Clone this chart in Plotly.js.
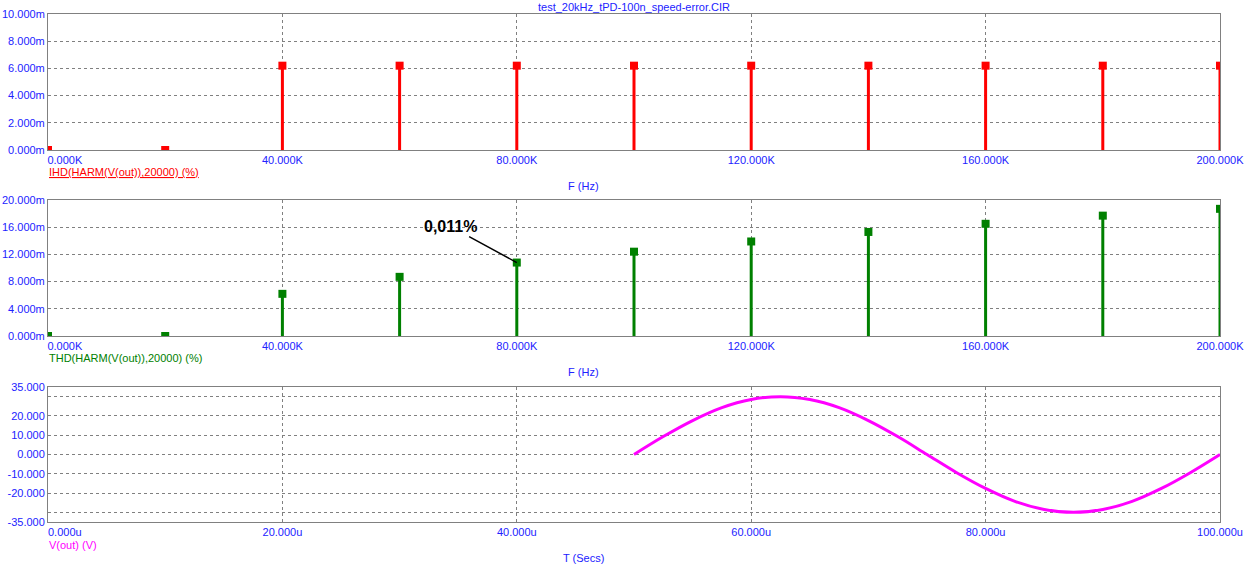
<!DOCTYPE html>
<html><head><meta charset="utf-8">
<script src="https://cdn.plot.ly/plotly-3.0.1.min.js"></script>
<style>html,body{margin:0;padding:0;background:#fff;}</style>
</head><body>
<div id="chart" style="width:1247px;height:569px"></div>
<script>
const chartTitle = 'test_20kHz_tPD-100n_speed-error.CIR';
const harmFreqK = [0, 20, 40, 60, 80, 100, 120, 140, 160, 180, 200];
const ihdMilli  = [0, 0, 6.2, 6.2, 6.2, 6.2, 6.2, 6.2, 6.2, 6.2, 6.2];
const thdMilli  = [0, 0, 6.2, 8.7, 10.8, 12.4, 13.9, 15.3, 16.5, 17.7, 18.7];
const timeMicro = [50, 52.5, 55, 57.5, 60, 62.5, 65, 67.5, 70, 72.5, 75, 77.5, 80, 82.5, 85, 87.5, 90, 92.5, 95, 97.5, 100];
const voutVolts = [0, 9.3, 17.6, 24.3, 28.5, 30.0, 28.5, 24.3, 17.6, 9.3, 0, -9.3, -17.6, -24.3, -28.5, -30.0, -28.5, -24.3, -17.6, -9.3, 0];

const freqTickVals = [0, 40, 80, 120, 160, 200];
const freqTickText = ['0.000K', '40.000K', '80.000K', '120.000K', '160.000K', '200.000K'];
const ihdTickVals = [0, 2, 4, 6, 8, 10];
const ihdTickText = ['0.000m', '2.000m', '4.000m', '6.000m', '8.000m', '10.000m'];
const thdTickVals = [0, 4, 8, 12, 16, 20];
const thdTickText = ['0.000m', '4.000m', '8.000m', '12.000m', '16.000m', '20.000m'];
const timeTickVals = [0, 20, 40, 60, 80, 100];
const timeTickText = ['0.000u', '20.000u', '40.000u', '60.000u', '80.000u', '100.000u'];
const voutTickVals = [-35, -20, -10, 0, 10, 20, 35];
const voutTickText = ['-35.000', '-20.000', '-10.000', '0.000', '10.000', '20.000', '35.000'];
const voutGridVals = [-30, -20, -10, 0, 10, 20, 30];

const ihdLabel = 'IHD(HARM(V(out)),20000) (%)';
const thdLabel = 'THD(HARM(V(out)),20000) (%)';
const voutLabel = 'V(out) (V)';
const freqAxisLabel = 'F (Hz)';
const timeAxisLabel = 'T (Secs)';
const markLabel = '0,011%';

const W = 1247, H = 569, L = 48, R = 27;
const px = x => (x - L) / (W - L - R);
const py = y => 1 - y / H;

const FONT = 'Liberation Sans, Arial, sans-serif';
const BLUE = '#2222ff';
const GRID = '#808080';
const pad = s => '\u00a0'.repeat(11) + s;

function stems(xs, ys) {
  const sx = [], sy = [];
  xs.forEach((x, i) => { sx.push(x, x, null); sy.push(0, ys[i], null); });
  return {x: sx, y: sy};
}
const s1 = stems(harmFreqK, ihdMilli);
const s2 = stems(harmFreqK, thdMilli);

// merge labelled ticks and grid-only ticks for the voltage axis
const voutAllVals = Array.from(new Set(voutTickVals.concat(voutGridVals))).sort((a, b) => a - b);
const voutAllText = voutAllVals.map(v => {
  const i = voutTickVals.indexOf(v);
  return i >= 0 ? voutTickText[i] : '';
});

const traces = [
  {x: s1.x, y: s1.y, xaxis: 'x', yaxis: 'y', mode: 'lines', line: {color: '#ff0000', width: 3}, hoverinfo: 'skip'},
  {x: harmFreqK, y: ihdMilli, xaxis: 'x', yaxis: 'y', mode: 'markers', marker: {symbol: 'square', size: 8, color: '#ff0000'}},
  {x: s2.x, y: s2.y, xaxis: 'x2', yaxis: 'y2', mode: 'lines', line: {color: '#008000', width: 3}, hoverinfo: 'skip'},
  {x: harmFreqK, y: thdMilli, xaxis: 'x2', yaxis: 'y2', mode: 'markers', marker: {symbol: 'square', size: 8, color: '#008000'}},
  {x: timeMicro, y: voutVolts, xaxis: 'x3', yaxis: 'y3', mode: 'lines', line: {color: '#ff00ff', width: 3, shape: 'spline'}}
];

const tf = {family: FONT, size: 11, color: BLUE};
function ax(extra) {
  return Object.assign({
    showline: true, linecolor: GRID, linewidth: 1, mirror: true,
    showgrid: true, gridcolor: GRID, gridwidth: 1, griddash: '3px,3px',
    zeroline: false, ticks: '', tickfont: tf, tickmode: 'array', fixedrange: true
  }, extra);
}

const dTop = [py(150), py(14)], dMid = [py(336), py(200)], dBot = [py(522), py(387)];

const layout = {
  width: W, height: H,
  margin: {l: L, r: R, t: 0, b: 0},
  paper_bgcolor: '#ffffff', plot_bgcolor: '#ffffff',
  showlegend: false,
  font: {family: FONT, size: 11, color: BLUE},
  xaxis: ax({domain: [0, 1], anchor: 'y', range: [0, 200], tickvals: freqTickVals, ticktext: freqTickText.map((t, i) => i === 0 ? pad(t) : t)}),
  yaxis: ax({domain: dTop, anchor: 'x', range: [0, 10], tickvals: ihdTickVals, ticktext: ihdTickText}),
  xaxis2: ax({domain: [0, 1], anchor: 'y2', range: [0, 200], tickvals: freqTickVals, ticktext: freqTickText.map((t, i) => i === 0 ? pad(t) : t)}),
  yaxis2: ax({domain: dMid, anchor: 'x2', range: [0, 20], tickvals: thdTickVals, ticktext: thdTickText}),
  xaxis3: ax({domain: [0, 1], anchor: 'y3', range: [0, 100], tickvals: timeTickVals, ticktext: timeTickText.map((t, i) => i === 0 ? pad(t) : t)}),
  yaxis3: ax({domain: dBot, anchor: 'x3', range: [-35, 35], tickvals: voutAllVals, ticktext: voutAllText}),
  annotations: [
    {text: chartTitle, xref: 'paper', yref: 'paper', x: px(634), y: py(7), xanchor: 'center', yanchor: 'middle', showarrow: false, font: {family: FONT, size: 11, color: BLUE}},
    {text: '<span style="text-decoration:underline">' + ihdLabel + '</span>', xref: 'paper', yref: 'paper', x: px(47), y: py(172), xanchor: 'left', yanchor: 'middle', showarrow: false, font: {family: FONT, size: 11, color: '#ff0000'}},
    {text: freqAxisLabel, xref: 'paper', yref: 'paper', x: px(583), y: py(186), xanchor: 'center', yanchor: 'middle', showarrow: false, font: {family: FONT, size: 11, color: BLUE}},
    {text: thdLabel, xref: 'paper', yref: 'paper', x: px(47), y: py(358), xanchor: 'left', yanchor: 'middle', showarrow: false, font: {family: FONT, size: 11, color: '#008000'}},
    {text: freqAxisLabel, xref: 'paper', yref: 'paper', x: px(583), y: py(372), xanchor: 'center', yanchor: 'middle', showarrow: false, font: {family: FONT, size: 11, color: BLUE}},
    {text: voutLabel, xref: 'paper', yref: 'paper', x: px(47), y: py(545), xanchor: 'left', yanchor: 'middle', showarrow: false, font: {family: FONT, size: 11, color: '#ff00ff'}},
    {text: timeAxisLabel, xref: 'paper', yref: 'paper', x: px(583), y: py(558), xanchor: 'center', yanchor: 'middle', showarrow: false, font: {family: FONT, size: 11, color: BLUE}},
    {text: '<b>' + markLabel + '</b>', xref: 'x2', yref: 'y2', x: harmFreqK[4], y: thdMilli[4], ax: -66, ay: -36,
     showarrow: true, arrowhead: 0, arrowwidth: 1.5, arrowcolor: '#000000', font: {family: FONT, size: 16, color: '#000000'}}
  ]
};

Plotly.newPlot('chart', traces, layout, {displayModeBar: false, staticPlot: true});
</script>
</body></html>
